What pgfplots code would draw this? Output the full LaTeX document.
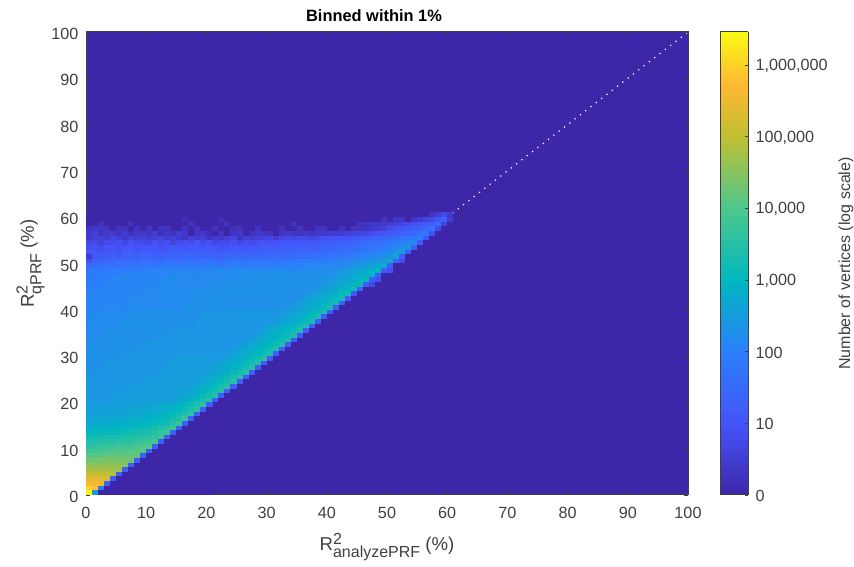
\documentclass[border=0pt]{standalone}
\usepackage{fontspec}
\setmainfont{Liberation Sans}
\usepackage{pgfplots}
\usepackage{pgfplotstable}
\pgfplotsset{compat=1.18}
\definecolor{txtgray}{HTML}{404040}
\definecolor{parulabg}{rgb}{0.2422,0.1504,0.6603}
\pgfdeclareplotmark{cell}{\pgfpathrectangle{\pgfpoint{0pt}{0pt}}{\pgfpoint{6.2pt}{4.8pt}}\pgfusepathqfill}
% cell values: counts as ten times log10(count+1); rows y = 0,1,...; columns x = 0,1,...
\pgfplotstableread[header=false]{
64 25 0 0 0 0 0 0 0 0 0 0 0 0 0 0 0 0 0 0 0
60 58 18 0 0 0 0 0 0 0 0 0 0 0 0 0 0 0 0 0 0
57 56 55 13 0 0 0 0 0 0 0 0 0 0 0 0 0 0 0 0 0
54 54 53 52 12 0 0 0 0 0 0 0 0 0 0 0 0 0 0 0 0
51 51 50 50 49 12 0 0 0 0 0 0 0 0 0 0 0 0 0 0 0
48 48 48 48 47 47 12 0 0 0 0 0 0 0 0 0 0 0 0 0 0
45 46 46 46 46 46 45 12 0 0 0 0 0 0 0 0 0 0 0 0 0
43 43 44 44 44 44 44 43 12 0 0 0 0 0 0 0 0 0 0 0 0
41 41 41 42 42 42 42 42 42 12 0 0 0 0 0 0 0 0 0 0 0
38 39 39 39 40 40 40 40 41 41 12 0 0 0 0 0 0 0 0 0 0
36 36 37 37 37 38 38 38 39 40 40 12 0 0 0 0 0 0 0 0 0
34 34 35 35 35 36 36 36 37 37 38 39 12 0 0 0 0 0 0 0 0
32 32 33 33 33 33 34 34 35 35 36 37 38 12 0 0 0 0 0 0 0
30 30 31 31 31 31 32 32 33 33 34 35 37 38 12 0 0 0 0 0 0
28 29 29 29 29 30 30 30 31 31 32 33 34 36 37 12 0 0 0 0 0
27 28 28 28 28 28 29 29 29 30 30 31 32 33 35 37 12 0 0 0 0
26 27 27 27 27 27 27 28 28 28 29 29 30 31 32 34 37 12 0 0 0
26 26 26 26 26 26 27 27 27 27 28 28 29 30 31 32 34 36 12 0 0
25 25 26 26 26 26 26 26 26 27 27 27 28 28 29 30 32 34 36 12 0
25 25 25 25 25 25 26 26 26 26 26 27 27 28 28 29 30 32 34 36 12
}\tblA
\pgfplotstableread[header=false]{
24 24 24 24 25 25 25 25 25 25 25 25 25 25 26 27 28 29 31 33 35 12 0 0 0 0 0 0 0 0 0 0 0 0 0 0 0 0 0 0 0
24 24 24 24 24 25 25 25 25 25 25 25 25 25 25 26 27 28 29 31 33 35 12 0 0 0 0 0 0 0 0 0 0 0 0 0 0 0 0 0 0
24 24 24 24 24 24 25 25 25 25 25 25 25 25 25 25 26 27 28 29 31 33 35 12 0 0 0 0 0 0 0 0 0 0 0 0 0 0 0 0 0
24 24 24 24 24 24 24 25 25 25 25 25 25 25 25 25 25 26 27 28 29 31 33 35 12 0 0 0 0 0 0 0 0 0 0 0 0 0 0 0 0
24 24 24 24 24 24 24 24 24 25 25 25 25 25 25 25 25 25 26 27 28 29 31 33 35 12 0 0 0 0 0 0 0 0 0 0 0 0 0 0 0
24 24 24 24 24 24 24 24 24 24 25 25 25 25 25 25 25 25 25 26 27 28 29 31 33 35 12 0 0 0 0 0 0 0 0 0 0 0 0 0 0
23 23 24 24 24 24 24 24 24 24 24 24 25 25 25 25 25 25 25 25 26 27 28 29 31 33 35 12 0 0 0 0 0 0 0 0 0 0 0 0 0
23 23 23 24 24 24 24 24 24 24 24 24 24 25 25 25 25 25 25 25 25 26 27 28 29 31 33 35 12 0 0 0 0 0 0 0 0 0 0 0 0
23 23 23 23 24 24 24 24 24 24 24 24 24 24 25 25 25 25 25 25 25 25 26 27 28 29 31 33 35 12 0 0 0 0 0 0 0 0 0 0 0
23 23 23 23 23 24 24 24 24 24 24 24 24 24 24 25 25 25 25 25 25 25 25 26 27 28 29 31 33 35 12 0 0 0 0 0 0 0 0 0 0
23 23 23 23 23 23 23 24 24 24 24 24 24 24 24 24 24 24 24 24 24 24 24 24 26 27 28 29 30 32 34 12 0 0 0 0 0 0 0 0 0
23 23 23 23 23 23 23 23 24 24 24 24 24 24 24 24 24 24 24 24 24 24 24 24 24 26 27 28 29 30 32 34 12 0 0 0 0 0 0 0 0
23 23 23 23 23 23 23 23 23 24 24 24 24 24 24 24 24 24 24 24 24 24 24 24 24 24 26 27 28 29 30 32 34 12 0 0 0 0 0 0 0
22 22 23 23 23 23 23 23 23 23 23 24 24 24 24 24 24 24 24 24 24 24 24 24 24 24 24 26 27 28 29 30 32 34 12 0 0 0 0 0 0
22 22 22 23 23 23 23 23 23 23 23 23 23 24 24 24 24 24 24 24 24 24 24 24 24 24 24 24 26 27 28 29 30 32 34 12 0 0 0 0 0
22 22 22 22 23 23 23 23 23 23 23 23 23 23 23 24 24 24 24 24 24 24 24 24 24 24 24 24 24 26 27 28 29 30 32 34 12 0 0 0 0
22 22 22 22 22 23 23 23 23 23 23 23 23 23 23 23 23 24 24 24 24 24 24 24 24 24 24 24 24 24 26 27 28 29 30 32 34 12 0 0 0
22 22 22 22 22 22 23 23 23 23 23 23 23 23 23 23 23 23 24 24 24 24 24 24 24 24 24 24 24 24 24 25 26 27 28 29 31 33 12 0 0
21 22 22 22 22 22 22 23 23 23 23 23 23 23 23 23 23 23 23 24 24 24 24 24 24 24 24 24 24 24 24 24 25 26 27 28 29 31 33 12 0
21 21 22 22 22 22 22 22 23 23 23 23 23 23 23 23 23 23 23 23 23 24 24 24 24 24 24 24 24 24 24 24 24 25 26 27 28 29 31 33 12
}\tblB
\pgfplotstableread[header=false]{
21 21 21 21 21 21 22 22 22 22 22 22 22 22 22 22 23 23 23 23 23 23 23 23 23 23 23 23 23 23 23 23 23 23 25 26 27 28 29 31 33 12 0 0 0 0 0 0 0 0 0 0 0 0 0 0 0 0 0 0 0
21 21 21 21 21 21 21 22 22 22 22 22 22 22 22 22 22 23 23 23 23 23 23 23 23 23 23 23 23 23 23 23 23 23 23 25 26 27 28 29 31 33 12 0 0 0 0 0 0 0 0 0 0 0 0 0 0 0 0 0 0
21 21 21 21 21 21 21 21 22 22 22 22 22 22 22 22 22 22 23 23 23 23 23 23 23 23 23 23 23 23 23 23 23 23 23 23 25 26 27 28 29 31 32 11 0 0 0 0 0 0 0 0 0 0 0 0 0 0 0 0 0
21 21 21 21 21 21 21 21 21 22 22 22 22 22 22 22 22 22 22 23 23 23 23 23 23 23 23 23 23 23 23 23 23 23 23 23 23 25 26 27 28 29 31 32 11 0 0 0 0 0 0 0 0 0 0 0 0 0 0 0 0
20 20 21 21 21 21 21 21 21 21 22 22 22 22 22 22 22 22 22 22 23 23 23 23 23 23 23 23 23 23 23 23 23 23 23 23 23 23 24 25 26 27 29 30 32 12 0 0 0 0 0 0 0 0 0 0 0 0 0 0 0
20 20 20 21 21 21 21 21 21 21 21 22 22 22 22 22 22 22 22 22 22 22 23 23 23 23 23 23 23 23 23 23 23 23 23 23 23 23 23 24 25 26 27 28 30 31 11 8 0 0 0 0 0 0 0 0 0 0 0 0 0
19 20 20 20 21 21 21 21 21 21 21 21 22 22 22 22 22 22 22 22 22 22 22 22 23 23 23 23 23 23 23 23 23 23 23 23 23 23 23 23 24 25 26 27 28 30 31 12 9 0 0 0 0 0 0 0 0 0 0 0 0
19 19 20 20 20 20 21 21 21 21 21 21 21 21 22 22 22 22 22 22 22 22 22 22 22 22 22 23 23 23 23 23 23 23 23 23 23 23 23 23 23 24 25 26 27 28 29 30 12 0 0 0 0 0 0 0 0 0 0 0 0
18 19 18 19 19 20 19 20 20 20 20 21 20 21 21 21 21 20 21 21 21 21 22 21 22 22 22 22 22 22 22 22 22 22 22 22 22 22 22 22 23 23 24 25 26 27 28 29 30 12 9 0 0 0 0 0 0 0 0 0 0
15 16 16 17 16 17 17 18 17 18 18 17 18 19 18 18 19 19 18 19 19 19 18 19 20 19 19 20 19 20 20 20 19 20 21 20 21 21 21 21 22 21 22 22 23 24 25 26 27 28 12 0 0 0 0 0 0 0 0 0 0
9 13 14 15 14 16 15 16 15 16 16 16 15 17 16 16 17 17 16 17 17 16 15 17 18 17 17 18 17 18 18 17 18 17 19 18 19 19 19 19 20 20 21 21 22 22 23 23 24 25 27 13 8 0 0 0 0 0 0 0 0
5 10 12 12 13 12 13 14 12 14 14 13 13 14 14 13 14 15 14 14 14 14 13 15 14 15 15 14 15 15 15 15 14 16 15 16 16 16 17 17 18 18 18 19 19 20 21 22 22 23 24 26 12 0 0 0 0 0 0 0 0
10 11 9 10 11 10 12 12 11 12 12 11 12 12 13 12 13 12 13 12 13 12 11 13 13 12 13 13 12 14 13 14 13 14 14 15 15 14 15 15 16 16 16 17 17 18 19 20 20 21 22 24 25 12 0 0 0 0 0 0 0
9 9 8 10 10 9 10 11 9 10 10 11 9 10 11 10 10 11 11 10 11 10 9 10 11 11 10 11 11 12 12 11 12 13 12 13 13 12 13 14 14 14 15 15 15 16 17 18 18 19 20 21 23 24 12 0 0 0 0 0 0
7 8 6 8 8 9 7 9 8 8 7 9 8 9 6 8 9 8 10 8 9 7 8 8 9 7 9 8 9 10 9 10 10 11 10 11 11 10 11 12 12 13 13 13 14 14 15 16 16 17 18 19 20 21 22 11 0 0 0 0 0
5 6 6 5 7 6 4 6 5 6 5 6 7 5 6 4 3 6 5 6 3 5 4 6 7 3 6 5 6 6 7 5 7 8 7 8 8 7 8 9 9 10 10 10 11 11 12 13 14 14 15 16 17 18 19 20 10 0 0 0 0
4 6 3 4 5 3 5 2 4 4 3 5 2 4 3 5 4 0 3 4 2 0 3 0 3 4 0 3 4 3 3 0 3 4 3 3 4 3 4 4 5 5 5 6 6 7 7 8 9 10 11 12 13 14 15 17 18 9 0 0 0
3 4 4 3 0 3 3 0 3 0 3 0 3 3 0 0 3 0 3 0 0 3 0 0 2 3 0 0 3 0 0 0 3 0 0 3 0 0 3 3 0 0 3 0 3 3 3 4 5 6 8 9 10 11 12 13 15 17 8 0 0
0 0 3 0 0 0 0 3 0 0 0 0 0 0 0 0 0 3 0 0 0 0 0 3 0 0 0 0 0 0 0 0 0 0 3 0 0 0 0 0 0 0 0 0 0 3 3 4 4 4 5 6 7 8 9 10 12 13 15 7 0
0 0 0 0 0 0 0 0 0 0 0 0 0 0 0 0 2 0 0 0 0 0 2 0 0 0 0 0 0 0 0 0 0 0 0 0 0 0 0 0 0 0 0 0 0 0 0 0 0 3 0 3 4 0 3 5 7 8 10 13 5
0 0 0 0 0 0 0 0 0 0 0 0 0 0 0 0 0 0 0 0 0 0 0 0 0 0 0 0 0 0 0 0 0 0 0 0 0 0 0 0 0 0 0 0 0 0 0 0 0 0 0 0 0 0 0 0 0 3 5 8 4
}\tblC
\newcommand\band[3]{%
  \pgfplotsinvokeforeach{0,...,#2}{%
    \addplot[scatter, only marks, mark=cell, scatter src=explicit, forget plot]
      table[x expr=##1, y expr=\coordindex+#3, meta index=##1] {#1};
  }%
}
\newcommand\lab[2]{{\fontsize{18.6}{20}\selectfont R\raisebox{0.33em}{\rlap{\fontsize{16}{18}\selectfont 2}}\raisebox{-0.4em}{\fontsize{16}{18}\selectfont #1} #2}}
\begin{document}
\begin{tikzpicture}
\useasboundingbox (0,0) rectangle (854pt,567pt);
\begin{axis}[
  at={(86pt,72pt)}, anchor=south west,
  width=602pt, height=463pt, scale only axis,
  xmin=0, xmax=100, ymin=0, ymax=100,
  xtick={0,10,...,100}, ytick={0,10,...,100},
  tick align=inside, major tick length=4pt,
  tick style={color=txtgray, line width=0.6pt},
  axis line style={color=txtgray, line width=1pt},
  axis background/.style={fill=parulabg},
  axis on top,
  /pgf/number format/assume math mode=true,
  tick label style={font=\fontsize{16.2}{18}\selectfont, text=txtgray},
  xticklabel style={yshift=-9pt},
  yticklabel style={xshift=-4pt, yshift=-2pt},
  title={\fontsize{16.4}{18}\selectfont\bfseries Binned within 1\%},
  title style={xshift=-13pt, yshift=0.5pt},
  xlabel={\lab{analyzePRF}{(\%)}},
  ylabel={\lab{qPRF}{(\%)}},
  xlabel style={text=txtgray, yshift=-7pt},
  ylabel style={text=txtgray},
  colormap={fparula}{
    rgb(0pt)=(0.2422,0.1504,0.6603);
    rgb(155pt)=(0.27,0.33,0.98);
    rgb(310pt)=(0.17,0.50,0.98);
    rgb(464pt)=(0.0,0.72,0.75);
    rgb(619pt)=(0.30,0.78,0.55);
    rgb(774pt)=(0.75,0.75,0.20);
    rgb(885pt)=(1.0,0.72,0.20);
    rgb(1000pt)=(0.98,0.98,0.08)
  },
  point meta min=0, point meta max=64.6,
  colorbar sampled,
  colorbar style={
    samples=200,
    at={(1.0532,0)}, anchor=south west,
    width=28pt, height=463pt,
    ytick={0,10,20,30,40,50,60},
    yticklabels={0,10,100,{1,000},{10,000},{100,000},{1,000,000}},
    yticklabel pos=right, ytick pos=right,
    tick align=inside, major tick length=3pt,
    tick style={color=txtgray, line width=0.6pt},
    axis line style={color=txtgray, line width=1pt},
    ylabel={Number of vertices (log scale)},
    ylabel shift=4pt,
    ylabel style={font=\fontsize{16}{18}\selectfont, text=txtgray},
    yticklabel style={font=\fontsize{16.2}{18}\selectfont, text=txtgray, xshift=4pt, yshift=-1pt},
  },
]
\band{\tblA}{20}{0}
\band{\tblB}{40}{20}
\band{\tblC}{60}{40}
\addplot[white, line width=1.2pt, dash pattern=on 1.2pt off 5.5pt, forget plot] coordinates {(0,0) (100,100)};
\end{axis}
\end{tikzpicture}
\end{document}
